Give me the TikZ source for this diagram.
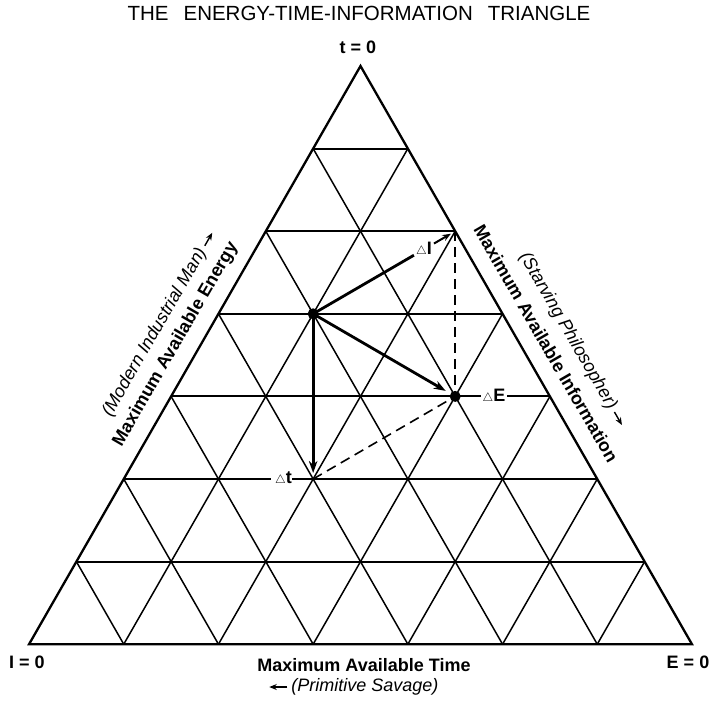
\documentclass[tikz,border=0pt]{standalone}
\usepackage{fontspec}
\setmainfont{Liberation Sans}
\usetikzlibrary{calc,arrows.meta}
\newcommand{\dtri}{{$\scriptstyle\triangle$}}
\tikzset{
 edgeline/.style={line width=2.3pt, line join=miter},
 hline/.style={line width=2pt},
 dline/.style={line width=1.5pt},
 vec/.style={line width=2.8pt, -{Stealth[length=12pt,width=8.5pt]}},
 dashline/.style={line width=1.6pt, dash pattern=on 10pt off 6pt},
 dotnode/.style={circle, fill, inner sep=0pt, minimum size=11pt},
 boldlab/.style={font=\fontsize{18}{20}\selectfont\bfseries, inner sep=0pt},
 itlab/.style={font=\fontsize{18}{20}\selectfont\itshape, inner sep=0pt},
 titlelab/.style={font=\fontsize{20.5}{22}\selectfont, inner sep=0pt},
 dlab/.style={font=\fontsize{18}{20}\selectfont\bfseries, fill=white, inner sep=1.5pt},
 smallarrow/.style={line width=1.4pt, -{Stealth[length=7.5pt,width=6pt]}},
}
\begin{document}
\begin{tikzpicture}[x=1pt,y=-1pt]
\useasboundingbox (0,0) rectangle (711,702);
% lattice points
\foreach \r in {0,...,7}{
  \foreach \k in {0,...,\r}{
    \coordinate (P\r\k) at ({360.5+(\k-\r/2)*94.7},{66+\r*82.6});
  }
}
% horizontal lines
\foreach \r in {1,...,6}{
  \draw[hline] (P\r0) -- (P\r\r);
}
% diagonals
\foreach \k [evaluate=\k as \m using int(7-\k)] in {1,...,6}{
  \draw[dline] (P7\k) -- (P\k\k);
  \draw[dline] (P7\k) -- (P\m0);
}
% outer triangle
\draw[edgeline] (P00) -- (P70) -- (P77) -- cycle;

% labels on lines
\node[dlab] (dE) at (494,396.4) {\dtri E};
\node[dlab, anchor=west, inner xsep=0pt] (dt) at (271,479) {\hspace{4pt}\dtri t\hspace{13pt}};
\node[dlab, inner xsep=2pt] (dI) at ($(P31)!0.78!(P22)$) {\dtri I};

% dashed lines
\draw[dashline] (P22) -- (P43);
\draw[dashline] (P52) -- (P43);

% vectors
\draw[line width=2.8pt] (P31) -- (dI);
\draw[line width=2pt, -{Stealth[length=8.5pt,width=6.5pt]}, shorten >=5pt] (dI) -- (P22);
\draw[vec, shorten >=11pt] (P31) -- (P43);
\draw[vec, shorten >=6pt] (P31) -- (P52);

% dots
\node[dotnode] (d1) at (P31) {};
\node[dotnode] (d2) at (P43) {};

% title and corners
\node[titlelab] (title) at (359,13) {THE\hspace{15pt}ENERGY-TIME-INFORMATION\hspace{15pt}TRIANGLE};
\node[boldlab] (t0) at (358,47) {t = 0};
\node[boldlab] (i0) at (27,662) {I = 0};
\node[boldlab] (e0) at (688,662) {E = 0};

% side labels
\node[boldlab, rotate=60] (lE) at (175.7,344.2) {Maximum Available Energy};
\node[itlab, rotate=60] (lM) at (154.9,332.2) {(Modern Industrial Man)};
\draw[smallarrow] ($(lM.east)+(2,-3.5)$) -- ($(lM.east)+(9.5,-16.5)$);

\node[boldlab, rotate=-60] (rI) at (546.2,343.7) {Maximum Available Information};
\node[itlab, rotate=-60] (rS) at (567.8,331.2) {(Starving Philosopher)};
\draw[smallarrow] ($(rS.east)+(2,3.5)$) -- ($(rS.east)+(9.5,16.5)$);

\node[boldlab] (bT) at (364,665) {Maximum Available Time};
\node[itlab] (bP) at (365,687) {(Primitive Savage)};
\draw[smallarrow] ($(bP.west)+(-4,0)$) -- ($(bP.west)+(-22,0)$);
\end{tikzpicture}
\end{document}
